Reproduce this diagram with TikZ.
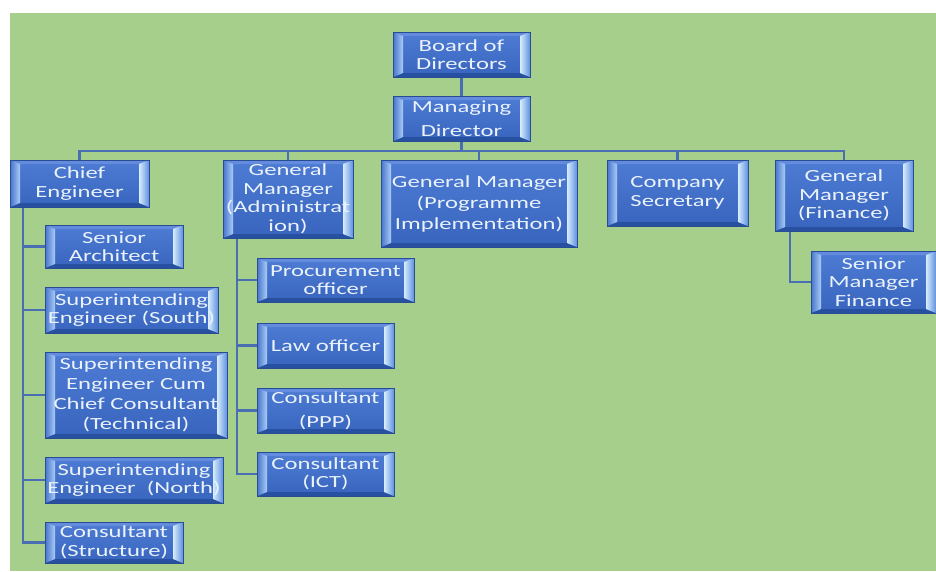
\documentclass[tikz,border=0pt]{standalone}
\usepackage{fontspec}
\setmainfont{Carlito}[FakeStretch=1.45]
\usetikzlibrary{backgrounds}
\definecolor{bg}{RGB}{167,207,140}
\definecolor{linecol}{RGB}{74,110,180}
\definecolor{boxedge}{RGB}{42,76,146}
\definecolor{face1}{RGB}{78,124,212}
\definecolor{face2}{RGB}{56,100,190}
\definecolor{facetop}{RGB}{100,140,222}
\definecolor{facebot}{RGB}{40,80,160}
\definecolor{lfo}{RGB}{70,115,205}
\definecolor{lfi}{RGB}{170,205,245}
\definecolor{rfi}{RGB}{215,236,252}
\definecolor{rfo}{RGB}{95,145,225}
\definecolor{txt}{RGB}{234,242,251}
\newcommand\zl[1]{\makebox[0pt]{#1}}
\tikzset{
  obox/.style={draw=boxedge, line width=0.8pt, inner sep=0pt, align=center,
    text=txt, font=\fontsize{17}{18.5}\selectfont,
    top color=face1, bottom color=face2,
    path picture={
      \coordinate (pA) at (path picture bounding box.south west);
      \coordinate (pB) at (path picture bounding box.north west);
      \coordinate (pC) at (path picture bounding box.north east);
      \coordinate (pD) at (path picture bounding box.south east);
      \fill[facetop] (pB) -- (pC) -- ([shift={(-10pt,-4pt)}]pC) -- ([shift={(10pt,-4pt)}]pB) -- cycle;
      \fill[facebot] (pA) -- (pD) -- ([shift={(-10pt,4pt)}]pD) -- ([shift={(10pt,4pt)}]pA) -- cycle;
      \shade[left color=lfo, right color=lfi] (pA) -- (pB) -- ([shift={(10pt,-4pt)}]pB) -- ([shift={(10pt,4pt)}]pA) -- cycle;
      \shade[left color=rfi, right color=rfo] (pD) -- (pC) -- ([shift={(-10pt,-4pt)}]pC) -- ([shift={(-10pt,4pt)}]pD) -- cycle;
    }},
  conn/.style={draw=linecol, line width=2.2pt}
}
\begin{document}
\begin{tikzpicture}[x=1pt,y=-1pt]
\useasboundingbox (0,0) rectangle (936,571);
% top level
\node[obox, minimum width=137pt, minimum height=45pt] (bod) at (461.5,54.5) {\zl{Board of}\\\zl{Directors}};
\node[obox, minimum width=137pt, minimum height=45pt, font=\fontsize{17}{24}\selectfont] (md) at (461.5,118.5) {\zl{Managing}\\\zl{Director}};
% second level
\node[obox, minimum width=139pt, minimum height=47pt] (ce) at (79.5,183.5) {\zl{Chief}\\\zl{Engineer}};
\node[obox, minimum width=130pt, minimum height=78pt] (gma) at (288,199) {\zl{General}\\\zl{Manager}\\\zl{(Administrat}\\\zl{ion)}};
\node[obox, minimum width=196pt, minimum height=87pt, font=\fontsize{17}{21}\selectfont] (gmp) at (479,203.5) {\zl{General Manager}\\\zl{(Programme}\\\zl{Implementation)}};
\node[obox, minimum width=141pt, minimum height=66pt] (cs) at (677.5,193) {\zl{Company}\\\zl{Secretary}};
\node[obox, minimum width=138pt, minimum height=71pt] (gmf) at (844,195.5) {\zl{General}\\\zl{Manager}\\\zl{(Finance)}};
% chief engineer children
\node[obox, minimum width=138pt, minimum height=43pt] (sa) at (114,246.5) {\zl{Senior}\\\zl{Architect}};
\node[obox, minimum width=173pt, minimum height=46pt] (ses) at (131.5,310) {\zl{Superintending}\\\zl{Engineer (South)}};
\node[obox, minimum width=182pt, minimum height=86pt, font=\fontsize{17}{20}\selectfont] (secc) at (136,395) {\zl{Superintending}\\\zl{Engineer Cum}\\\zl{Chief Consultant}\\\zl{(Technical)}};
\node[obox, minimum width=178pt, minimum height=46pt] (sen) at (134,480) {\zl{Superintending}\\\zl{Engineer\ \ (North)}};
\node[obox, minimum width=138pt, minimum height=41pt] (cst) at (114,542.5) {\zl{Consultant}\\\zl{(Structure)}};
% GM admin children
\node[obox, minimum width=157pt, minimum height=44pt] (po) at (335.5,280) {\zl{Procurement}\\\zl{officer}};
\node[obox, minimum width=137pt, minimum height=45pt] (lo) at (325.5,345.5) {\zl{Law officer}};
\node[obox, minimum width=137pt, minimum height=45pt, font=\fontsize{17}{24}\selectfont] (cppp) at (325.5,410.5) {\zl{Consultant}\\\zl{(PPP)}};
\node[obox, minimum width=137pt, minimum height=44pt] (cict) at (325.5,474) {\zl{Consultant}\\\zl{(ICT)}};
% GM finance child
\node[obox, minimum width=125pt, minimum height=62pt] (smf) at (873.5,282) {\zl{Senior}\\\zl{Manager}\\\zl{Finance}};
\begin{scope}[on background layer]
  \fill[bg] (10,13) rectangle (936,571);
  \coordinate (busy) at (0,151);
  \draw[conn] (bod) -- (md);
  \draw[conn] (md.south) -- (md.south |- busy);
  \draw[conn] (ce.north) |- (gmf.north |- busy) -- (gmf.north);
  \draw[conn] (gma.north) -- (gma.north |- busy);
  \draw[conn] (gmp.north) -- (gmp.north |- busy);
  \draw[conn] (cs.north) -- (cs.north |- busy);
  \foreach \c in {sa,ses,secc,sen,cst}
    \draw[conn] ([xshift=13pt]ce.south west) |- (\c.west);
  \foreach \c in {po,lo,cppp,cict}
    \draw[conn] ([xshift=14pt]gma.south west) |- (\c.west);
  \draw[conn] ([xshift=15pt]gmf.south west) |- (smf.west);
\end{scope}
\end{tikzpicture}
\end{document}
